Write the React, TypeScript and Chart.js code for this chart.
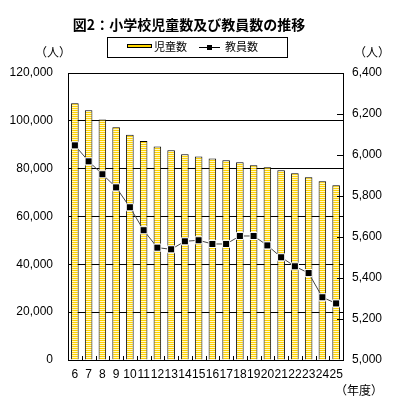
import React, { useEffect, useRef } from "react";
import { Chart, registerables } from "chart.js";

Chart.register(...registerables);

const years: string[] = ["6","7","8","9","10","11","12","13","14","15","16","17","18","19","20","21","22","23","24","25"];
const pupils: number[] = [107300,104400,100600,97300,94200,91600,89300,87700,86000,85100,84200,83500,82650,81400,80550,79300,78050,76400,74700,73050];
const teachers: number[] = [6047,5969,5906,5842,5745,5633,5548,5540,5579,5584,5566,5566,5605,5605,5559,5501,5457,5424,5306,5276];
const leftTicks = { min: 0, max: 120000, step: 20000 };
const rightTicks = { min: 5000, max: 6400, step: 200 };
const titleText = "図2：小学校児童数及び教員数の推移";
const legendBar = "児童数";
const legendLine = "教員数";
const unitText = "（人）";
const yearText = "（年度）";

const JP = '"Noto Sans CJK JP", "Liberation Sans", sans-serif';
const NUM = '"Liberation Sans", Arial, sans-serif';

function makePattern(): CanvasPattern | string {
  const c = document.createElement("canvas");
  c.width = 1;
  c.height = 2;
  const g = c.getContext("2d");
  if (!g) return "#FFD700";
  g.fillStyle = "#FFD200";
  g.fillRect(0, 0, 1, 1);
  g.fillStyle = "#FFF8C8";
  g.fillRect(0, 1, 1, 1);
  return g.createPattern(c, "repeat") || "#FFD700";
}

const decorPlugin = {
  id: "decor",
  afterDraw(chart: any) {
    const ctx = chart.ctx as CanvasRenderingContext2D;
    const area = chart.chartArea;
    const xs = chart.scales.x;
    const y1 = chart.scales.y1;
    ctx.save();
    ctx.strokeStyle = "#000";
    ctx.lineWidth = 1;
    for (let i = 1; i < years.length; i++) {
      const x = Math.round((xs.getPixelForValue(i - 1) + xs.getPixelForValue(i)) / 2) + 0.5;
      ctx.beginPath();
      ctx.moveTo(x, area.bottom);
      ctx.lineTo(x, area.bottom - 4);
      ctx.stroke();
    }
    for (let v = rightTicks.min; v <= rightTicks.max; v += rightTicks.step) {
      const y = Math.round(y1.getPixelForValue(v)) + 0.5;
      ctx.beginPath();
      ctx.moveTo(area.right, y);
      ctx.lineTo(area.right - 6, y);
      ctx.stroke();
    }
    ctx.fillStyle = "#000";
    ctx.font = "bold 14px " + JP;
    ctx.textAlign = "center";
    ctx.textBaseline = "middle";
    ctx.fillText(titleText, 189, 25);
    ctx.strokeRect(107.5, 37.5, 180, 20);
    ctx.fillStyle = "#FFD700";
    ctx.fillRect(127, 44, 25, 4);
    ctx.strokeRect(127.5, 44.5, 24, 3);
    ctx.fillStyle = "#000";
    ctx.font = "11px " + JP;
    ctx.textAlign = "left";
    ctx.fillText(legendBar, 154, 47);
    ctx.beginPath();
    ctx.moveTo(199, 47.5);
    ctx.lineTo(220, 47.5);
    ctx.stroke();
    ctx.fillRect(207, 45, 5, 5);
    ctx.fillText(legendLine, 225, 47);
    ctx.font = "12px " + JP;
    ctx.textAlign = "center";
    ctx.fillText(unitText, 53, 52);
    ctx.fillText(unitText, 372, 52);
    ctx.fillText(yearText, 359, 390);
    ctx.restore();
  },
};

export default function App() {
  const ref = useRef<HTMLCanvasElement>(null);
  useEffect(() => {
    if (!ref.current) return;
    const pattern = makePattern();
    const chart = new Chart(ref.current, {
      type: "bar",
      data: {
        labels: years,
        datasets: [
          {
            type: "line",
            label: legendLine,
            data: teachers,
            yAxisID: "y1",
            borderColor: "#444",
            borderWidth: 1,
            pointStyle: "rect",
            pointRadius: 5,
            pointBackgroundColor: "#000",
            pointBorderColor: "#fff",
            pointBorderWidth: 1,
            tension: 0,
            order: 0,
          } as any,
          {
            type: "bar",
            label: legendBar,
            data: pupils,
            yAxisID: "y",
            backgroundColor: pattern as any,
            borderColor: "#000",
            borderWidth: 1,
            barPercentage: 0.55,
            categoryPercentage: 1,
            order: 1,
          },
        ],
      },
      options: {
        responsive: false,
        animation: false,
        layout: { padding: { top: 73, left: 0, right: 0, bottom: 0 } },
        plugins: { legend: { display: false }, title: { display: false }, tooltip: { enabled: false } },
        scales: {
          x: {
            afterFit: (s: any) => { s.height = 53; },
            grid: { display: false, drawTicks: false },
            border: { display: true, color: "#000", width: 1 },
            ticks: { autoSkip: false, maxRotation: 0, padding: 7, color: "#000", font: { family: NUM, size: 12 } },
          },
          y: {
            position: "left",
            min: leftTicks.min,
            max: leftTicks.max,
            afterFit: (s: any) => { s.width = 68; },
            grid: { color: "#000", lineWidth: 1, drawTicks: false },
            border: { display: true, color: "#000", width: 1 },
            ticks: {
              stepSize: leftTicks.step,
              padding: 15,
              color: "#000",
              font: { family: NUM, size: 12 },
              callback: (v: any) => Number(v).toLocaleString("en-US"),
            },
          },
          y1: {
            position: "right",
            min: rightTicks.min,
            max: rightTicks.max,
            afterFit: (s: any) => { s.width = 53; },
            grid: { display: false, drawTicks: false },
            border: { display: true, color: "#000", width: 1 },
            ticks: {
              stepSize: rightTicks.step,
              padding: 9,
              color: "#000",
              font: { family: NUM, size: 12 },
              callback: (v: any) => Number(v).toLocaleString("en-US"),
            },
          },
        },
      },
      plugins: [decorPlugin],
    });
    return () => chart.destroy();
  }, []);
  return (
    <div style={{ position: "fixed", left: 0, top: 0, width: 396, height: 413, background: "#fff" }}>
      <canvas ref={ref} width={396} height={413} style={{ display: "block", width: 396, height: 413 }} />
    </div>
  );
}
